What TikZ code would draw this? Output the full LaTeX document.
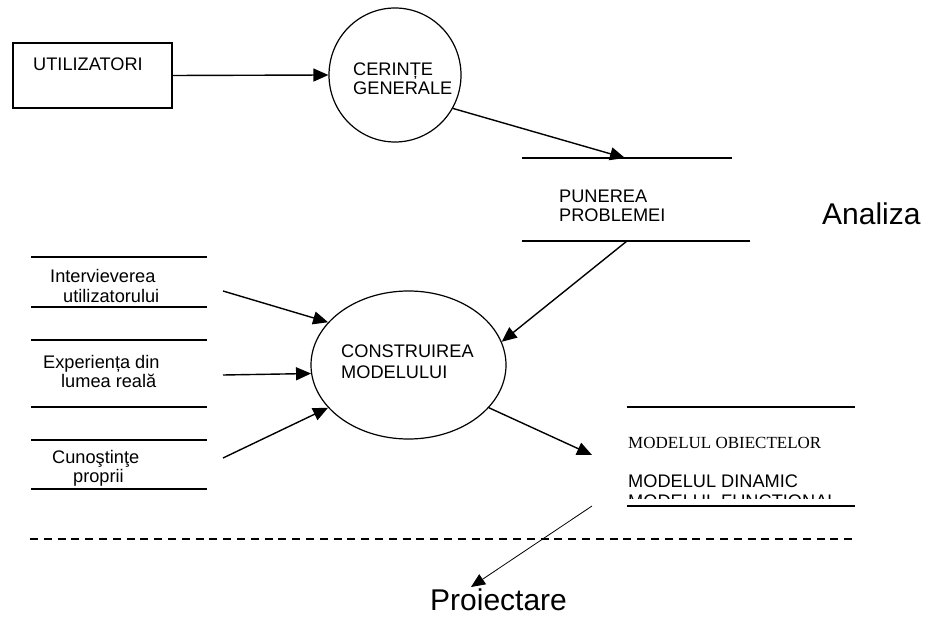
\documentclass[tikz,border=0pt]{standalone}
\usepackage{fontspec}
\setmainfont{Liberation Sans}
\newfontfamily\timesf{Liberation Serif}
\usetikzlibrary{shapes.geometric,arrows.meta}
\begin{document}
\begin{tikzpicture}[x=1pt,y=-1pt,
  lbl/.style={anchor=base west,inner sep=0pt,font=\fontsize{18.2}{20}\selectfont},
  big/.style={anchor=base west,inner sep=0pt,font=\fontsize{30}{34}\selectfont},
  arr/.style={line width=1.4pt,-{Triangle[length=15pt,width=13pt]}},
  thinarr/.style={line width=0.8pt,-{Triangle[length=14pt,width=12pt]}},
  storeline/.style={line width=1.4pt},
  proc/.style={draw,ellipse,line width=1.2pt,inner sep=0pt}]
\useasboundingbox (0,0) rectangle (928,617);

% external entity
\node[draw,line width=1.2pt,minimum width=159pt,minimum height=65pt,inner sep=0pt] (util) at (92.5,75.5) {};
\node[lbl] (utilt) at (33,71) {UTILIZATORI};

% processes
\node[proc,minimum width=132pt,minimum height=134pt] (cer) at (395,75) {};
\node[lbl] (cer1) at (353,76) {CERINȚE};
\node[lbl] (cer2) at (353,95) {GENERALE};

\node[proc,minimum width=195pt,minimum height=148pt] (con) at (408.5,365) {};
\node[lbl] (con1) at (341,357) {CONSTRUIREA};
\node[lbl] (con2) at (341,378) {MODELULUI};

% store PUNEREA PROBLEMEI
\draw[storeline] (522,158) -- (732,158);
\draw[storeline] (522,241) -- (750,241);
\coordinate (punTop) at (625,158);
\coordinate (punBot) at (627,241);
\node[lbl] (pun1) at (559,203) {PUNEREA};
\node[lbl] (pun2) at (559,222) {PROBLEMEI};

\node[big] (analiza) at (822,225) {Analiza};

% left stores
\draw[storeline] (31,257) -- (207,257);
\draw[storeline] (31,307) -- (207,307);
\draw[storeline] (31,340) -- (207,340);
\draw[storeline] (31,407) -- (207,407);
\draw[storeline] (31,440) -- (207,440);
\draw[storeline] (31,489) -- (207,489);
\node[lbl] (s1a) at (50,283) {Intervieverea};
\node[lbl] (s1b) at (63,302) {utilizatorului};
\node[lbl] (s2a) at (43,368) {Experiența din};
\node[lbl] (s2b) at (61,387) {lumea reală};
\node[lbl] (s3a) at (52,463) {Cunoştinţe};
\node[lbl] (s3b) at (73,482) {proprii};
\coordinate (s1) at (223,291);
\coordinate (s2) at (223,375);
\coordinate (s3) at (223,458);

% models store
\draw[storeline] (627,407) -- (855,407);
\draw[storeline] (627,506) -- (855,506);
\node[anchor=base west,inner sep=0pt,font=\timesf\fontsize{17}{20}\selectfont] (m1) at (628,448) {MODELUL OBIECTELOR};
\node[lbl] (m2) at (628,487) {MODELUL DINAMIC};
\begin{scope}
  \clip (620,480) rectangle (860,498.5);
  \node[lbl] (m3) at (628,507) {MODELUL FUNCTIONAL};
\end{scope}
\coordinate (mIn) at (592,455);
\coordinate (mOut) at (592,506);

% dashed separator
\draw[line width=1.2pt,dash pattern=on 8pt off 5.8pt] (30,539) -- (856,539);

\node[big] (proi) at (430,610) {Proiectare};
\coordinate (proiIn) at (471,587);

% connectors
\draw[arr] (util.east) -- (cer.west);
\draw[arr] (cer.-30) -- (punTop);
\draw[arr] (punBot) -- (con.14);
\draw[arr] (s1) -- (con.152);
\draw[arr] (s2) -- (con.185);
\draw[arr] (s3) -- (con.208);
\draw[arr] (con.-28) -- (mIn);
\draw[thinarr] (mOut) -- (proiIn);
\end{tikzpicture}
\end{document}
